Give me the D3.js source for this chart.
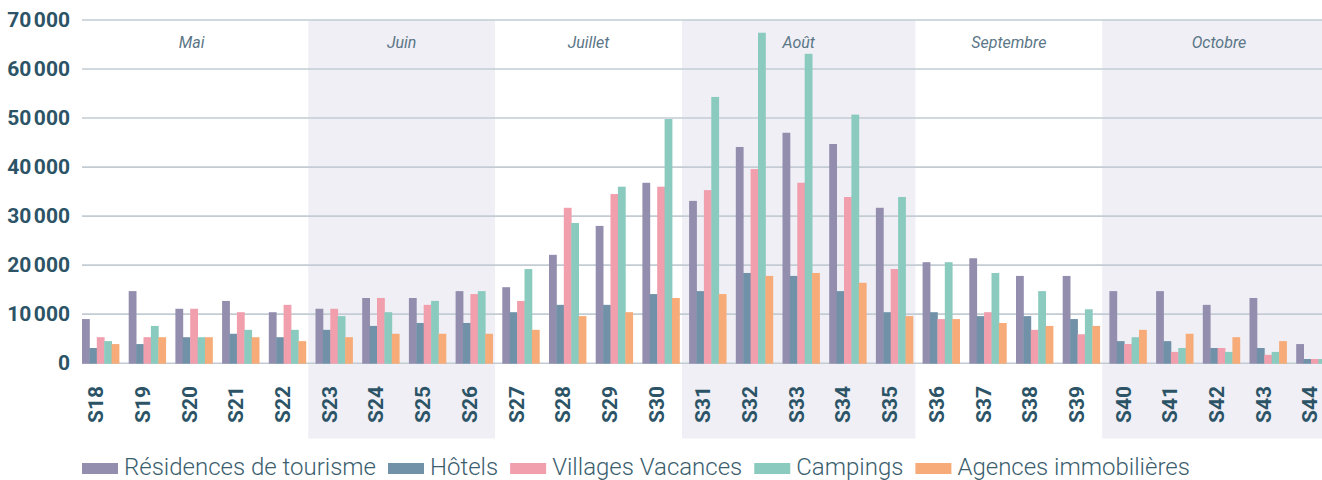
<!DOCTYPE html>
<html>
<head>
<meta charset="utf-8">
<script src="https://cdn.jsdelivr.net/npm/d3@7"></script>
<style>
  body { margin: 0; background: #fff; overflow: hidden; }
  svg { display: block; font-family: Roboto, "Noto Sans", sans-serif; }
</style>
</head>
<body>
<svg id="chart"></svg>
<script>
// Weeks and the months they fall in
const weeks = ["S18","S19","S20","S21","S22","S23","S24","S25","S26","S27","S28","S29","S30",
               "S31","S32","S33","S34","S35","S36","S37","S38","S39","S40","S41","S42","S43","S44"];
const monthNames = ["Mai", "Juin", "Juillet", "Août", "Septembre", "Octobre"];
const monthWeeks = [5, 4, 4, 5, 4, 5];
const monthShaded = [false, true, false, true, false, true];

// Series
const seriesNames = ["Résidences de tourisme", "Hôtels", "Villages Vacances", "Campings", "Agences immobilières"];
const residences = [8900,14600,11000,12600,10300, 11000,13200,13200,14600, 15400,22000,27900,36700,
                    33000,44000,46900,44600,31600, 20500,21300,17700,17700, 14600,14600,11800,13200,3800];
const hotels     = [3000,3800,5200,5900,5200, 6700,7500,8100,8100, 10300,11800,11800,14000,
                    14600,18300,17700,14600,10300, 10300,9500,9500,8900, 4400,4400,3000,3000,750];
const villages   = [5200,5200,11000,10300,11800, 11000,13200,11800,14000, 12600,31600,34400,35900,
                    35200,39500,36700,33800,19100, 8900,10300,6700,5800, 3800,2200,3000,1600,750];
const campings   = [4400,7500,5200,6700,6700, 9500,10300,12600,14600, 19100,28500,35900,49700,
                    54200,67300,63000,50600,33800, 20500,18300,14600,10900, 5200,3000,2200,2200,750];
const agences    = [3800,5200,5200,5200,4400, 5200,5900,5900,5900, 6700,9500,10300,13200,
                    14000,17700,18300,16300,9500, 8900,8100,7500,7500, 6700,5900,5200,4400,700];
const yTicks = [0, 10000, 20000, 30000, 40000, 50000, 60000, 70000];

const seriesValues = [residences, hotels, villages, campings, agences];
const colors = ["#938dae", "#7191a8", "#f19ead", "#8bcbbf", "#f6ab78"];

const width = 1322, height = 480;
const svg = d3.select("#chart").attr("width", width).attr("height", height);

const plotLeft = 74.8, step = 46.7;
const x = d3.scaleBand()
    .domain(weeks)
    .range([plotLeft, plotLeft + step * weeks.length]);

const xSub = d3.scaleBand()
    .domain(seriesNames)
    .range([7.2, 7.2 + 37]);

const y = d3.scaleLinear()
    .domain([0, 70000])
    .range([362.7, 19.5]);

// Month bands
let acc = 0;
const months = monthNames.map((name, i) => {
    const m = { name, first: weeks[acc], last: weeks[acc + monthWeeks[i] - 1], shaded: monthShaded[i] };
    acc += monthWeeks[i];
    return m;
});

svg.append("g").selectAll("rect")
    .data(months.filter(m => m.shaded))
    .join("rect")
    .attr("x", m => x(m.first))
    .attr("width", m => x(m.last) + x.bandwidth() - x(m.first))
    .attr("y", y(70000))
    .attr("height", 438.5 - y(70000))
    .attr("fill", "#efeff5");

// Grid + y labels
const yAxis = d3.axisLeft(y)
    .tickValues(yTicks)
    .tickSize(-(width - 82 + 20))
    .tickPadding(12)
    .tickFormat(d => d3.format(",")(d).replace(/,/g, "\u202f"));

const gy = svg.append("g")
    .attr("transform", "translate(82,0)")
    .call(yAxis);
gy.select(".domain").remove();
gy.selectAll(".tick line").attr("stroke", "#c3ccd3").attr("stroke-width", 1.6);
gy.selectAll(".tick text")
    .attr("fill", "#2c5466")
    .attr("font-size", 21)
    .attr("font-weight", 700)
    .attr("font-family", "Roboto, sans-serif");

// Month names
svg.append("g").selectAll("text")
    .data(months)
    .join("text")
    .attr("x", m => (x(m.first) + x(m.last) + x.bandwidth()) / 2)
    .attr("y", 48)
    .attr("text-anchor", "middle")
    .attr("font-size", 16)
    .attr("font-style", "italic")
    .attr("fill", "#5b7687")
    .text(m => m.name);

// Bars
const rows = weeks.map((w, i) => ({ week: w, values: seriesNames.map((s, j) => ({ key: s, value: seriesValues[j][i], color: colors[j] })) }));

svg.append("g").selectAll("g")
    .data(rows)
    .join("g")
    .attr("transform", d => `translate(${x(d.week)},0)`)
    .selectAll("rect")
    .data(d => d.values)
    .join("rect")
    .attr("x", d => xSub(d.key))
    .attr("width", xSub.bandwidth() + 0.4)
    .attr("y", d => y(d.value))
    .attr("height", d => y(0) - y(d.value) + 1)
    .attr("fill", d => d.color);

// Week labels (rotated)
svg.append("g").selectAll("text")
    .data(weeks)
    .join("text")
    .attr("transform", w => `translate(${x(w) + x.bandwidth() / 2 - 2.5},386) rotate(-90)`)
    .attr("dy", "0.36em")
    .attr("text-anchor", "end")
    .attr("font-size", 21)
    .attr("font-weight", 700)
    .attr("fill", "#2c5466")
    .text(w => w);

// Legend
const legend = svg.append("g").attr("transform", "translate(82,0)");
let lx = 0;
seriesNames.forEach((name, i) => {
    legend.append("rect")
        .attr("x", lx).attr("y", 463)
        .attr("width", 36).attr("height", 11)
        .attr("fill", colors[i]);
    const t = legend.append("text")
        .attr("x", lx + 42).attr("y", 475)
        .attr("font-size", 24)
        .attr("font-weight", 300)
        .attr("fill", "#3b5e6e")
        .text(name);
    lx += 42 + t.node().getComputedTextLength() + 12;
});
</script>
</body>
</html>
